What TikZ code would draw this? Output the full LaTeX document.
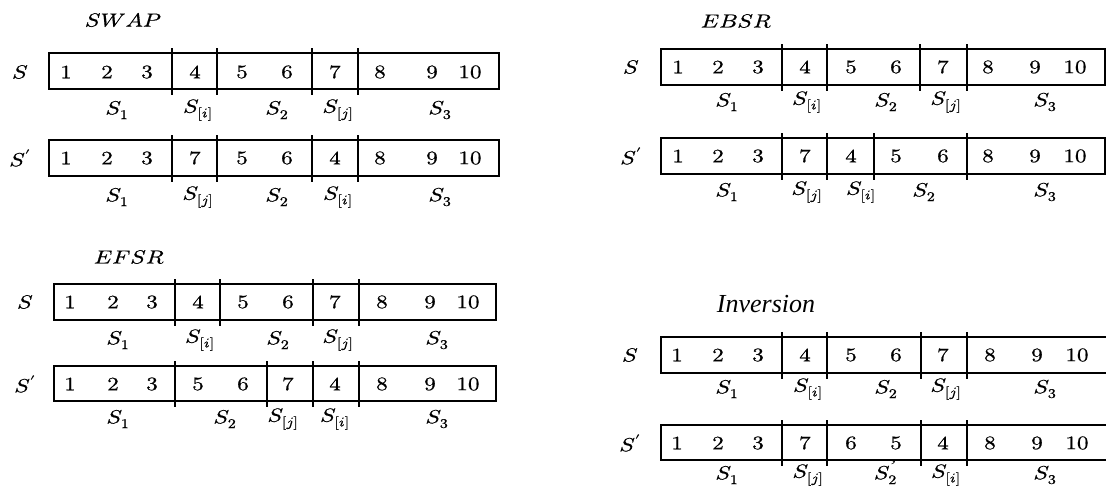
\documentclass[tikz,border=0pt]{standalone}
\usepackage{amsmath}
\usepackage{unicode-math}
\setmathfont{Latin Modern Math}[FakeBold=0.6]
\newfontfamily\timesfont{Liberation Serif}

\begin{document}
\begin{tikzpicture}[x=1pt, y=-1pt]
    % Define styles
    \tikzstyle{lbl} = [inner sep=0pt, xscale=1.22, font=\fontsize{19}{23}\selectfont]
    \tikzstyle{hdr} = [inner sep=0pt, font=\timesfont\itshape\fontsize{26}{30}\selectfont]
    \tikzstyle{seq} = [line width=1.1pt]
    \tikzstyle{cut} = [line width=1.1pt]

    \useasboundingbox (0,0) rectangle (1106,488);

    % SWAP
    \node[lbl] (swap) at (123,20) {$SWAP$};

    % Row S
    \node[lbl] (swapS) at (20,72) {$S$};
    \draw[seq] (49,53) rectangle (499,89);
    \foreach \x in {172,217,312,358} \draw[cut] (\x,48) -- (\x,95);
    \foreach \x/\v in {66/1,107/2,147/3,195/4,242/5,287/6,335/7,380/8,432/9,470/10}
        \node[lbl] (swapS-\v) at (\x,72) {$\v$};
    \foreach \x/\v [count=\k] in {117/{S_1},198/{S_{[i]}},277/{S_2},338/{S_{[j]}},440/{S_3}}
        \node[lbl] (swapS-l\k) at (\x,110) {$\v$};

    % Row S'
    \node[lbl] (swapT) at (20,158) {$S'$};
    \draw[seq] (49,140) rectangle (499,176);
    \foreach \x in {172,217,312,358} \draw[cut] (\x,135) -- (\x,182);
    \foreach \x/\v in {66/1,107/2,147/3,195/7,242/5,287/6,335/4,380/8,432/9,470/10}
        \node[lbl] (swapT-\v) at (\x,158) {$\v$};
    \foreach \x/\v [count=\k] in {117/{S_1},198/{S_{[j]}},277/{S_2},338/{S_{[i]}},440/{S_3}}
        \node[lbl] (swapT-l\k) at (\x,197) {$\v$};

    % EBSR
    \node[lbl] (ebsr) at (736,21) {$EBSR$};

    % Row S
    \node[lbl] (ebsrS) at (631,67) {$S$};
    \draw[seq] (661,49) rectangle (1105,85);
    \foreach \x in {782,827,920,967} \draw[cut] (\x,44) -- (\x,91);
    \foreach \x/\v in {678/1,718/2,758/3,805/4,851/5,896/6,943/7,988/8,1035/9,1075/10}
        \node[lbl] (ebsrS-\v) at (\x,67) {$\v$};
    \foreach \x/\v [count=\k] in {727/{S_1},807/{S_{[i]}},886/{S_2},946/{S_{[j]}},1045/{S_3}}
        \node[lbl] (ebsrS-l\k) at (\x,102) {$\v$};

    % Row S'
    \node[lbl] (ebsrT) at (631,156) {$S'$};
    \draw[seq] (661,138) rectangle (1105,174);
    \foreach \x in {782,827,874,967} \draw[cut] (\x,133) -- (\x,180);
    \foreach \x/\v in {678/1,718/2,758/3,805/7,851/4,896/5,943/6,988/8,1035/9,1075/10}
        \node[lbl] (ebsrT-\v) at (\x,156) {$\v$};
    \foreach \x/\v [count=\k] in {727/{S_1},807/{S_{[j]}},861/{S_{[i]}},924/{S_2},1045/{S_3}}
        \node[lbl] (ebsrT-l\k) at (\x,192) {$\v$};

    % EFSR
    \node[lbl] (efsr) at (129,257) {$EFSR$};

    % Row S
    \node[lbl] (efsrS) at (25,302) {$S$};
    \draw[seq] (54,284) rectangle (496,320);
    \foreach \x in {175,220,313,359} \draw[cut] (\x,279) -- (\x,326);
    \foreach \x/\v in {70/1,113/2,152/3,198/4,243/5,288/6,335/7,382/8,430/9,468/10}
        \node[lbl] (efsrS-\v) at (\x,302) {$\v$};
    \foreach \x/\v [count=\k] in {118/{S_1},200/{S_{[i]}},278/{S_2},338/{S_{[j]}},437/{S_3}}
        \node[lbl] (efsrS-l\k) at (\x,340) {$\v$};

    % Row S'
    \node[lbl] (efsrT) at (25,384) {$S'$};
    \draw[seq] (54,366) rectangle (496,401);
    \foreach \x in {175,267,313,359} \draw[cut] (\x,361) -- (\x,407);
    \foreach \x/\v in {70/1,113/2,152/3,198/5,243/6,288/7,335/4,382/8,430/9,468/10}
        \node[lbl] (efsrT-\v) at (\x,384) {$\v$};
    \foreach \x/\v [count=\k] in {118/{S_1},225/{S_2},283/{S_{[j]}},335/{S_{[i]}},437/{S_3}}
        \node[lbl] (efsrT-l\k) at (\x,419) {$\v$};

    % Inversion
    \node[hdr] (inv) at (766,304) {Inversion};

    % Row S
    \node[lbl] (invS) at (630,355) {$S$};
    \draw[seq] (661,337) rectangle (1112,373);
    \foreach \x in {782,827,921,967} \draw[cut] (\x,332) -- (\x,379);
    \foreach \x/\v in {677/1,718/2,758/3,805/4,851/5,896/6,943/7,990/8,1037/9,1077/10}
        \node[lbl] (invS-\v) at (\x,355) {$\v$};
    \foreach \x/\v [count=\k] in {727/{S_1},808/{S_{[i]}},886/{S_2},946/{S_{[j]}},1045/{S_3}}
        \node[lbl] (invS-l\k) at (\x,389) {$\v$};

    % Row S'
    \node[lbl] (invT) at (630,443) {$S'$};
    \draw[seq] (661,425) rectangle (1112,460);
    \foreach \x in {782,827,921,967} \draw[cut] (\x,420) -- (\x,466);
    \foreach \x/\v in {677/1,718/2,758/3,805/7,851/6,896/5,943/4,990/8,1037/9,1077/10}
        \node[lbl] (invT-\v) at (\x,443) {$\v$};
    \foreach \x/\v [count=\k] in {727/{S_1},808/{S_{[j]}},886/{S_2^{\smash{\mbox{\timesfont ’}}}},946/{S_{[i]}},1045/{S_3}}
        \node[lbl] (invT-l\k) at (\x,475) {$\v$};

\end{tikzpicture}
\end{document}
